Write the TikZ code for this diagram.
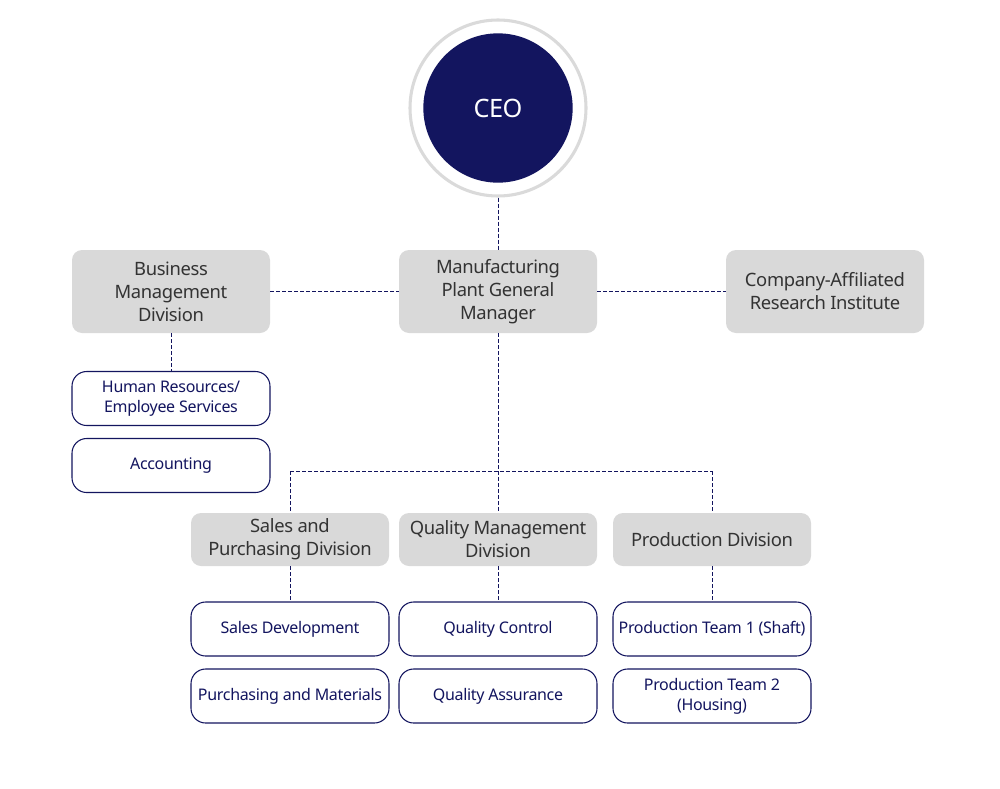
\documentclass[tikz,border=0pt]{standalone}
\usepackage{fontspec}
\setmainfont{Noto Sans}[LetterSpace=-2]
\definecolor{navy}{HTML}{13155F}
\definecolor{boxgray}{HTML}{D9D9D9}
\definecolor{ringgray}{HTML}{DADADA}
\definecolor{txtgray}{HTML}{333333}
\tikzset{
  graybox/.style={fill=boxgray, rounded corners=7.5pt, minimum width=148.5pt, align=center, text=txtgray, font=\fontsize{13.8pt}{17.2pt}\selectfont, inner sep=0pt},
  tallbox/.style={graybox, minimum height=62.25pt},
  shortbox/.style={graybox, minimum height=39.75pt},
  whitebox/.style={draw=navy, line width=0.8pt, fill=white, rounded corners=11pt, minimum width=148.5pt, minimum height=40.5pt, align=center, text=navy, font=\fontsize{12pt}{15pt}\selectfont, inner sep=0pt},
  link/.style={draw=navy, line width=0.75pt, dash pattern=on 3pt off 1.5pt}
}
\begin{document}
\begin{tikzpicture}[x=0.75pt,y=-0.75pt]
\useasboundingbox (0,0) rectangle (1000,789);
% CEO
\node[circle, draw=ringgray, line width=2.3pt, fill=white, minimum size=132pt, inner sep=0pt] (ring) at (498,108) {};
\node[circle, fill=navy, minimum size=112pt, inner sep=0pt, text=white, font=\fontsize{19pt}{22pt}\selectfont] (ceo) at (498,108) {CEO};
% top row
\node[tallbox] (bmd) at (171,291.5) {Business\\Management\\Division};
\node[tallbox] (mpg) at (498,291.5) {Manufacturing\\Plant General\\Manager};
\node[tallbox] (cari) at (825,291.5) {Company-Affiliated\\Research Institute};
% business children
\node[whitebox] (hr) at (171,398.5) {Human Resources/\\Employee Services};
\node[whitebox] (acc) at (171,465.5) {Accounting};
% second row
\node[shortbox] (spd) at (290,539.5) {Sales and\\Purchasing Division};
\node[shortbox] (qmd) at (498,539.5) {Quality Management\\Division};
\node[shortbox] (prd) at (712,539.5) {Production Division};
% leaves
\node[whitebox] (sd) at (290,629) {Sales Development};
\node[whitebox] (pm) at (290,696) {Purchasing and Materials};
\node[whitebox] (qc) at (498,629) {Quality Control};
\node[whitebox] (qa) at (498,696) {Quality Assurance};
\node[whitebox] (pt1) at (712,629) {Production Team 1 (Shaft)};
\node[whitebox] (pt2) at (712,696) {Production Team 2\\(Housing)};
% connectors
\coordinate (jl) at (290,471);
\coordinate (jr) at (712,471);
\path[link] (ring.south) -- (mpg.north);
\path[link] (bmd.east) -- (mpg.west);
\path[link] (mpg.east) -- (cari.west);
\path[link] (bmd.south) -- (hr.north);
\path[link] (mpg.south) -- (qmd.north);
\path[link] (jl) -- (jr);
\path[link] (jl) -- (spd.north);
\path[link] (jr) -- (prd.north);
\path[link] (spd.south) -- (sd.north);
\path[link] (qmd.south) -- (qc.north);
\path[link] (prd.south) -- (pt1.north);
\end{tikzpicture}
\end{document}
